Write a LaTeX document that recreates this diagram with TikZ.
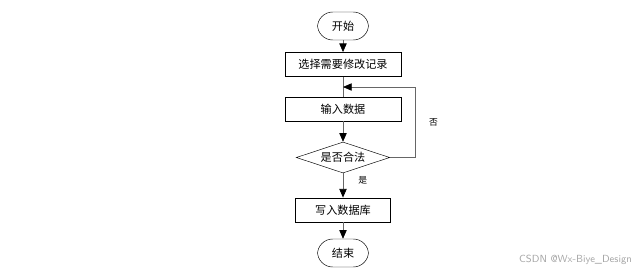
\documentclass[tikz,border=0pt]{standalone}
\usepackage{fontspec}
\newfontfamily\cjk{Noto Sans CJK SC}
\usetikzlibrary{arrows.meta, shapes.geometric}

\begin{document}
\begin{tikzpicture}[x=0.03cm, y=-0.03cm, >={Triangle[length=2.6mm, width=2.2mm, color=black]},
  every node/.style={font=\cjk\fontsize{9.5}{11}\selectfont},
  terminal/.style={draw, rounded corners=13, minimum width=1.53cm, minimum height=0.84cm, inner sep=0pt},
  process/.style={draw, minimum height=0.73cm, inner sep=0pt},
  decision/.style={draw, diamond, aspect=3, minimum width=2.8cm, minimum height=0.93cm, inner sep=0pt},
  link/.style={draw=black!60, line width=0.6pt}]
  \useasboundingbox (0,0) rectangle (642,273);
  \node[terminal] (start) at (343,26) {开始};
  \node[process, minimum width=3.48cm] (select) at (343,64.5) {选择需要修改记录};
  \node[process, minimum width=3.48cm] (input) at (343,109) {输入数据};
  \node[decision] (check) at (343,157.5) {是否合法};
  \node[process, minimum width=2.85cm] (write) at (343,210) {写入数据库};
  \node[terminal] (stop) at (343,253) {结束};
  \coordinate (merge) at (343,87);
  \coordinate (corner) at (415,157.5);
  % main flow
  \draw[link, ->] (start) -- (select);
  \draw[link] (select) -- (input);
  \draw[link, ->] (input) -- (check);
  \draw[link, ->] (check) -- (write) node[pos=0.3, right=9.5pt, font=\cjk\fontsize{7.5}{9}\selectfont] {是};
  \draw[link, ->] (write) -- (stop);
  % back loop
  \draw[link, ->] (check.east) -- (corner) |- (merge) node[pos=0.25, right=8.5pt, font=\cjk\fontsize{7.5}{9}\selectfont] {否};
  \node[text=black!35, font=\sffamily\fontsize{8.8}{10}\selectfont] (mark) at (575.5,260) {CSDN @Wx-Biye\_Design};
\end{tikzpicture}
\end{document}
